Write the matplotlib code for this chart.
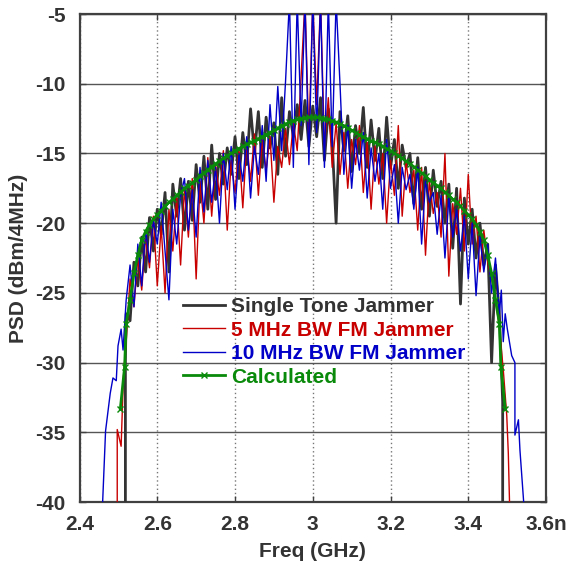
import numpy as np
import matplotlib
matplotlib.use("Agg")
import matplotlib.pyplot as plt

plt.rcParams['font.family'] = ['Liberation Sans', 'DejaVu Sans']
plt.rcParams['font.weight'] = 'bold'
plt.rcParams['axes.unicode_minus'] = False

# sampled band 2.52 .. 3.48 GHz, 10 MHz steps (97 points)
body_start, body_stop = 2.52, 3.48

single_tone = [
    -26.5, -27.0, -22.8, -24.5, -21.0, -23.5, -19.6, -22.0, -19.0, -20.8,
    -17.8, -23.5, -17.2, -19.5, -16.8, -20.5, -17.0, -19.8, -15.8, -18.5,
    -15.2, -19.0, -14.4, -18.3, -15.0, -17.2, -14.6, -16.5, -13.8, -16.8,
    -13.5, -15.8, -11.8, -15.0, -12.0, -16.0, -12.4, -14.6, -12.8, -16.5,
    -11.0, -15.2, -12.0, -13.8, -11.5, -14.0, -11.2, -14.5, -11.6, -13.8,
    -11.0, -15.5, -11.8, -14.2, -20.0, -12.0, -14.8, -12.3, -16.3, -13.0,
    -15.0, -11.7, -16.0, -12.6, -15.5, -13.2, -16.8, -12.4, -16.0, -14.0,
    -17.5, -14.4, -16.0, -15.0, -18.6, -15.3, -19.0, -16.0, -19.5, -16.2,
    -18.8, -17.0, -20.0, -17.2, -21.8, -17.5, -25.8, -18.2, -21.5, -19.0,
    -22.5, -20.0, -23.0, -21.5, -30.0, -23.0, -26.5,
]
single_tone_left_f = [2.518, 2.518]
single_tone_left = [-41.0, -29.8]
single_tone_right_f = [3.4885, 3.4885]
single_tone_right = [-32.8, -41.0]

fm5 = [
    -28.5, -24.0, -26.0, -22.5, -24.8, -21.0, -23.2, -19.5, -24.5, -20.2,
    -25.0, -19.0, -22.0, -18.2, -23.0, -17.5, -21.0, -16.8, -24.0, -17.0,
    -20.0, -15.3, -19.5, -15.8, -18.0, -14.8, -20.5, -15.5, -17.8, -14.6,
    -18.9, -14.2, -17.0, -13.6, -18.0, -14.0, -16.2, -13.8, -18.5, -14.5,
    -16.0, -13.2, -15.8, -12.8, -14.8, -9.5, -4.0, -14.0, -4.0, -11.5,
    -4.0, -14.5, -11.0, -16.0, -12.8, -16.5, -13.5, -17.5, -14.0, -15.8,
    -13.0, -17.8, -14.2, -19.0, -14.5, -17.2, -15.0, -20.0, -15.5, -18.0,
    -13.0, -19.5, -15.6, -17.8, -16.2, -20.5, -16.0, -22.3, -17.0, -19.3,
    -17.8, -21.0, -15.0, -23.8, -18.6, -20.8, -17.5, -22.0, -16.5, -21.5,
    -19.5, -23.5, -20.5, -22.8, -24.0, -25.5, -27.5,
]
fm5_left_f = [2.497, 2.497, 2.507, 2.513]
fm5_left = [-41.0, -34.8, -36.0, -31.0]
fm5_right_f = [3.49, 3.499, 3.503, 3.507]
fm5_right = [-30.5, -33.8, -36.5, -41.0]

fm10 = [
    -25.5, -23.0, -26.0, -21.5, -24.5, -20.5, -22.8, -19.8, -21.5, -18.5,
    -22.0, -25.5, -19.0, -21.5, -18.0, -16.8, -20.5, -17.6, -21.0, -16.0,
    -19.2, -15.5, -18.5, -16.0, -20.0, -15.0, -17.6, -14.5, -19.0, -15.0,
    -17.0, -13.8, -18.2, -14.5, -16.5, -13.0, -17.0, -11.5, -15.5, -10.2,
    -14.8, -9.8, -4.0, -16.0, -4.0, -13.0, -4.0, -15.8, -4.0, -13.5,
    -4.0, -16.0, -4.0, -14.5, -4.0, -10.0, -16.5, -13.0, -17.5, -14.0,
    -16.2, -13.5, -18.2, -14.6, -17.0, -15.0, -19.0, -14.0, -17.5, -15.8,
    -20.0, -16.0, -17.6, -16.5, -19.0, -16.0, -21.5, -17.0, -18.5, -17.8,
    -20.8, -18.0, -22.5, -18.2, -21.0, -19.0, -22.0, -19.5, -24.0, -20.0,
    -25.2, -21.0, -23.5, -21.5, -25.0, -22.5, -26.5,
]
fm10_left_f = [2.458, 2.467, 2.479, 2.486, 2.4945, 2.499, 2.507, 2.512]
fm10_left = [-41.0, -34.9, -32.2, -31.1, -31.3, -28.8, -27.6, -29.1]
fm10_right_f = [3.485, 3.49, 3.495, 3.5005, 3.5117, 3.52, 3.52, 3.529, 3.533, 3.542, 3.545]
fm10_right = [-24.8, -28.5, -26.5, -27.6, -29.5, -30.0, -35.2, -34.1, -36.3, -39.8, -41.0]

calculated = [
    -27.2, -25.5, -23.6, -22.3, -21.2, -20.6, -20.1, -19.7, -19.4, -19.1,
    -18.8, -18.5, -18.3, -18.0, -17.8, -17.5, -17.3, -17.1, -16.9, -16.6,
    -16.4, -16.2, -15.95, -15.75, -15.55, -15.35, -15.15, -15.0, -14.8, -14.65,
    -14.5, -14.35, -14.2, -14.1, -13.95, -13.8, -13.65, -13.5, -13.35, -13.2,
    -13.0, -12.9, -12.75, -12.65, -12.55, -12.5, -12.45, -12.4, -12.4, -12.4,
    -12.45, -12.5, -12.55, -12.65, -12.75, -12.9, -13.0, -13.2, -13.35, -13.5,
    -13.65, -13.8, -13.95, -14.1, -14.2, -14.35, -14.5, -14.65, -14.8, -15.0,
    -15.15, -15.35, -15.55, -15.75, -15.95, -16.2, -16.4, -16.6, -16.9, -17.1,
    -17.3, -17.5, -17.8, -18.0, -18.3, -18.5, -18.8, -19.1, -19.4, -19.7,
    -20.1, -20.6, -21.2, -22.3, -23.6, -25.5, -27.2,
]
calc_left_f = [2.505, 2.516]
calc_left = [-33.3, -30.3]
calc_right_f = [3.484, 3.495]
calc_right = [-30.3, -33.3]

labels = ['Single Tone Jammer', '5 MHz BW FM Jammer', '10 MHz BW FM Jammer', 'Calculated']
colors = ['#333333', '#c80000', '#0000c8', '#0a8a0a']
xticks = [2.4, 2.6, 2.8, 3.0, 3.2, 3.4, 3.6]
xticklabels = ['2.4', '2.6', '2.8', '3', '3.2', '3.4', '3.6n']
yticks = [-40, -35, -30, -25, -20, -15, -10, -5]


def join(left_f, left, body, right_f, right):
    body_f = np.linspace(body_start, body_stop, len(body))
    f = np.concatenate([left_f, body_f, right_f])
    v = np.concatenate([left, body, right])
    return f, v


fig = plt.figure(figsize=(5.66, 5.63), dpi=100)
ax = fig.add_axes([0.1405, 0.1083, 0.8242, 0.8668])

f, v = join(single_tone_left_f, single_tone_left, single_tone, single_tone_right_f, single_tone_right)
ax.plot(f, v, color=colors[0], lw=2.0, label=labels[0], zorder=3)
f, v = join(fm5_left_f, fm5_left, fm5, fm5_right_f, fm5_right)
ax.plot(f, v, color=colors[1], lw=1.0, label=labels[1], zorder=4)
f, v = join(fm10_left_f, fm10_left, fm10, fm10_right_f, fm10_right)
ax.plot(f, v, color=colors[2], lw=1.0, label=labels[2], zorder=5)
f, v = join(calc_left_f, calc_left, calculated, calc_right_f, calc_right)
ax.plot(f, v, color=colors[3], lw=2.0, marker='x', ms=5, mew=1.0, label=labels[3], zorder=6)

ax.set_xlim(2.4, 3.6)
ax.set_ylim(-40, -5)
ax.set_xticks(xticks)
ax.set_xticklabels(xticklabels)
ax.set_yticks(yticks)

# grid: solid horizontal, dotted vertical
ax.yaxis.grid(True, color='#555555', lw=1.0, ls='-')
ax.xaxis.grid(True, color='#777777', lw=1.0, ls=(0, (1, 2)))
ax.set_axisbelow(True)

for s in ax.spines.values():
    s.set_color('#404040')
    s.set_linewidth(1.6)
ax.tick_params(direction='in', length=4, width=1, colors='#404040',
               labelcolor='#333333', labelsize=15, top=True, right=True)
ax.tick_params(axis='y', pad=10)
ax.tick_params(axis='x', pad=9)

ax.set_xlabel('Freq (GHz)', fontsize=15, color='#333333', fontweight='bold', labelpad=6)
ax.set_ylabel('PSD (dBm/4MHz)', fontsize=15, color='#333333', fontweight='bold', labelpad=5)

leg = ax.legend(loc='upper left', bbox_to_anchor=(183 / 566, 1 - 297 / 563),
                bbox_transform=fig.transFigure, frameon=False, fontsize=15,
                handlelength=2.0, handletextpad=0.3, labelspacing=0.22,
                borderpad=0, borderaxespad=0)
for t, c in zip(leg.get_texts(), colors):
    t.set_color(c)

fig.savefig('out.png', dpi=100, facecolor='white')
